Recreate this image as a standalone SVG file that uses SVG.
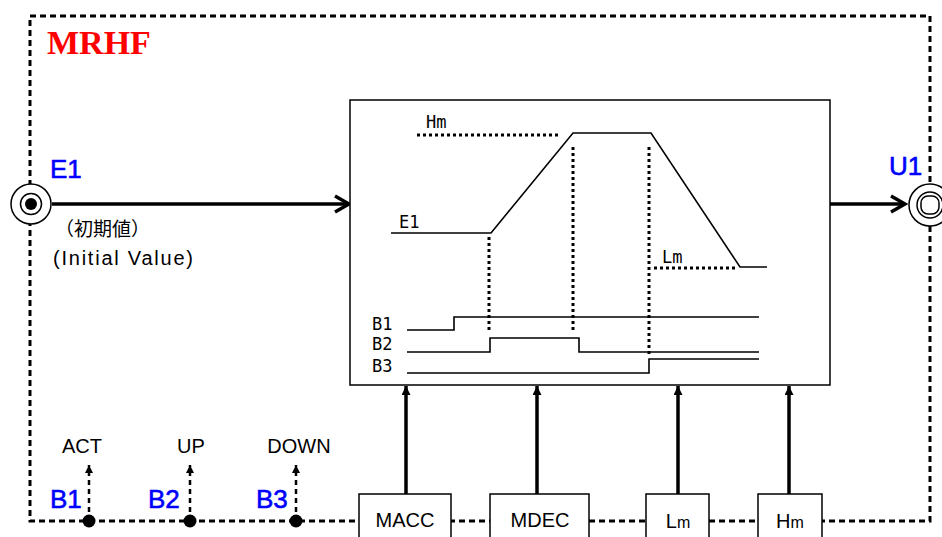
<svg xmlns="http://www.w3.org/2000/svg" width="942" height="537" viewBox="0 0 942 537">
<style>
.b{fill:none;stroke:#000;stroke-width:3;stroke-dasharray:6 4}
.box{fill:#fff;stroke:#000;stroke-width:1.5}
.lbl{font-family:"Liberation Sans",Arial,sans-serif;font-size:20px;fill:#000}
.blue{font-family:"Liberation Sans",Arial,sans-serif;font-size:26px;fill:#0000ff;stroke:#0000ff;stroke-width:0.6}
.mono{font-family:"DejaVu Sans Mono","Liberation Mono",monospace;font-size:17px;fill:#000}
.sig{fill:none;stroke:#000;stroke-width:1.6}
.dot{fill:none;stroke:#000;stroke-width:3;stroke-dasharray:3 3}
.thick{fill:none;stroke:#000;stroke-width:3.5}
.dash{fill:none;stroke:#000;stroke-width:2.5;stroke-dasharray:5 4}
.ring{fill:#fff;stroke:#000;stroke-width:1.5}
</style>
<defs>
<marker id="chev" viewBox="0 0 20 20" refX="17" refY="10" markerWidth="20" markerHeight="20" markerUnits="userSpaceOnUse" orient="auto">
<path d="M3,2 L17,10 L3,18" fill="none" stroke="#000" stroke-width="3.5"/>
</marker>
<marker id="tri" viewBox="0 0 10 10" refX="10" refY="5" markerWidth="10" markerHeight="9" markerUnits="userSpaceOnUse" orient="auto">
<path d="M0,0 L10,5 L0,10 z" fill="#000"/>
</marker>
<marker id="tris" viewBox="0 0 10 10" refX="10" refY="5" markerWidth="9" markerHeight="8" markerUnits="userSpaceOnUse" orient="auto">
<path d="M0,0 L10,5 L0,10 z" fill="#000"/>
</marker>
</defs>
<rect width="942" height="537" fill="#fff"/>
<g id="frame">
<rect class="b" x="30" y="16" width="900" height="505"/>
<text x="47" y="54" font-family="Liberation Serif,Times New Roman,serif" font-weight="bold" font-size="34" fill="#ff0000">MRHF</text>
</g>
<g id="connectors">
<line class="thick" x1="52" y1="204" x2="349" y2="204" marker-end="url(#chev)"/>
<line class="thick" x1="830" y1="204" x2="905" y2="204" marker-end="url(#chev)"/>
<line class="thick" x1="406" y1="494" x2="406" y2="386" stroke-width="3" marker-end="url(#tri)"/>
<line class="thick" x1="537" y1="494" x2="537" y2="386" stroke-width="3" marker-end="url(#tri)"/>
<line class="thick" x1="678" y1="494" x2="678" y2="386" stroke-width="3" marker-end="url(#tri)"/>
<line class="thick" x1="789" y1="494" x2="789" y2="386" stroke-width="3" marker-end="url(#tri)"/>
<line class="dash" x1="89" y1="521" x2="89" y2="465" marker-end="url(#tris)"/>
<line class="dash" x1="190" y1="521" x2="190" y2="465" marker-end="url(#tris)"/>
<line class="dash" x1="296" y1="521" x2="296" y2="465" marker-end="url(#tris)"/>
</g>
<g id="E1">
<circle class="ring" cx="31" cy="204" r="20"/>
<circle class="ring" cx="31" cy="204" r="10.5"/>
<circle cx="31" cy="204" r="6" fill="#000"/>
<text class="blue" x="50" y="178">E1</text>
<text x="55" y="236" font-family="Noto Sans CJK JP,sans-serif" font-size="19" fill="#000">（初期値）</text>
<text class="lbl" x="53" y="265" textLength="140" lengthAdjust="spacing">(Initial Value)</text>
</g>
<g id="U1">
<circle class="ring" cx="930" cy="205" r="21"/>
<circle class="ring" cx="930" cy="205" r="13"/>
<rect class="ring" x="921" y="196" width="18" height="18" rx="7"/>
<text class="blue" x="889" y="175">U1</text>
</g>
<g id="graph">
<rect class="box" x="350" y="100" width="480" height="285"/>
<text class="mono" x="426" y="128">Hm</text>
<line class="dot" x1="417" y1="135" x2="558" y2="135"/>
<text class="mono" x="399" y="228">E1</text>
<polyline class="sig" points="391,233 491,233 573,133 651,133 740,267 767,267"/>
<text class="mono" x="662" y="263">Lm</text>
<line class="dot" x1="654" y1="268" x2="737" y2="268"/>
<line class="dot" x1="489" y1="237" x2="489" y2="332"/>
<line class="dot" x1="573" y1="147" x2="573" y2="332"/>
<line class="dot" x1="649" y1="147" x2="649" y2="354"/>
<text class="mono" x="372" y="330">B1</text>
<text class="mono" x="372" y="350">B2</text>
<text class="mono" x="372" y="372">B3</text>
<polyline class="sig" points="407,330 454,330 454,317 759,317"/>
<polyline class="sig" points="407,352 490,352 490,338 579,338 579,352 759,352"/>
<polyline class="sig" points="407,373 649,373 649,359 759,359"/>
</g>
<g id="MACC">
<rect class="box" x="359" y="494" width="92" height="60"/>
<text class="lbl" x="405" y="527" text-anchor="middle">MACC</text>
</g>
<g id="MDEC">
<rect class="box" x="490" y="494" width="99" height="60"/>
<text class="lbl" x="540" y="527" text-anchor="middle">MDEC</text>
</g>
<g id="Lm">
<rect class="box" x="646" y="494" width="63" height="60"/>
<text class="lbl" x="678" y="528" text-anchor="middle">L<tspan font-size="16">m</tspan></text>
</g>
<g id="Hm">
<rect class="box" x="758" y="494" width="64" height="60"/>
<text class="lbl" x="790" y="528" text-anchor="middle">H<tspan font-size="16">m</tspan></text>
</g>
<g id="B1">
<circle cx="89" cy="521" r="6.5" fill="#000"/>
<text class="blue" x="50" y="508">B1</text>
<text class="lbl" x="82" y="453" text-anchor="middle">ACT</text>
</g>
<g id="B2">
<circle cx="190" cy="521" r="6.5" fill="#000"/>
<text class="blue" x="148" y="508">B2</text>
<text class="lbl" x="191" y="453" text-anchor="middle">UP</text>
</g>
<g id="B3">
<circle cx="296" cy="521" r="6.5" fill="#000"/>
<text class="blue" x="256" y="508">B3</text>
<text class="lbl" x="299" y="453" text-anchor="middle">DOWN</text>
</g>
</svg>
